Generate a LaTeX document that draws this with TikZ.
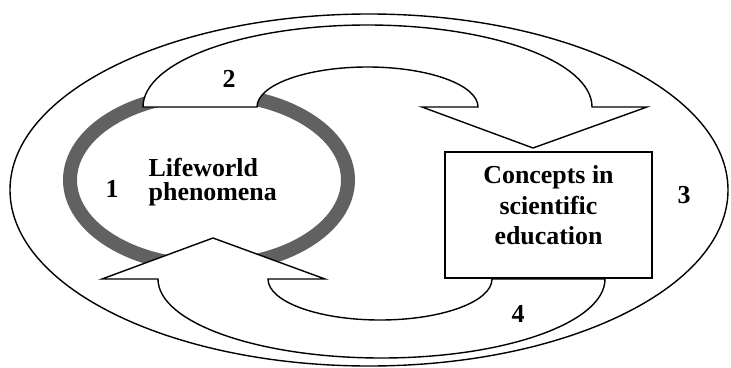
\documentclass[tikz,border=0pt]{standalone}
\usepackage{fontspec}
\setmainfont{Liberation Serif}
\usetikzlibrary{positioning}

\begin{document}
\begin{tikzpicture}[x=1bp,y=1bp,line width=1.4bp,
  bigarrow/.style={draw,fill=white,line join=miter},
  lbl/.style={font=\fontsize{26}{30.5}\selectfont\bfseries,inner sep=0pt},
  num/.style={lbl,anchor=base},
  conceptbox/.style={draw,fill=white,minimum width=207bp,minimum height=126bp,inner sep=0pt}]
\useasboundingbox (0,0) rectangle (731,367);
% outer cycle
\draw (369,177) ellipse[x radius=359bp,y radius=176bp];
% lifeworld ring
\draw[line width=14bp,black!62] (209,187) ellipse[x radius=139bp,y radius=86bp];
\node[lbl,align=left,anchor=west,font=\fontsize{26}{23.5}\selectfont\bfseries] (life) at (148,184.7) {Lifeworld\\phenomena};
% arrow 2: lifeworld -> concepts
\path[bigarrow] (143,260) arc[start angle=180,end angle=0,x radius=224.5bp,y radius=82bp]
  -- (647,260) -- (533,219) -- (422,260) -- (478,260)
  arc[start angle=0,end angle=180,x radius=110.5bp,y radius=40bp] -- cycle;
% arrow 4: concepts -> lifeworld
\path[bigarrow] (605,88) arc[start angle=0,end angle=-180,x radius=223.5bp,y radius=79bp]
  -- (102,88) -- (213,129) -- (325,88) -- (268,88)
  arc[start angle=180,end angle=360,x radius=112bp,y radius=41bp] -- cycle;
% concepts box
\node[conceptbox] (edu) at (548.5,152) {};
\node[lbl,align=center] (edutext) at ([yshift=9.5bp]edu.center) {Concepts in\\scientific\\education};
% numbers
\node[num] (n1) at (112,170) {1};
\node[num] (n2) at (229,280) {2};
\node[num] (n3) at (684,164) {3};
\node[num] (n4) at (518,45) {4};
\end{tikzpicture}
\end{document}
